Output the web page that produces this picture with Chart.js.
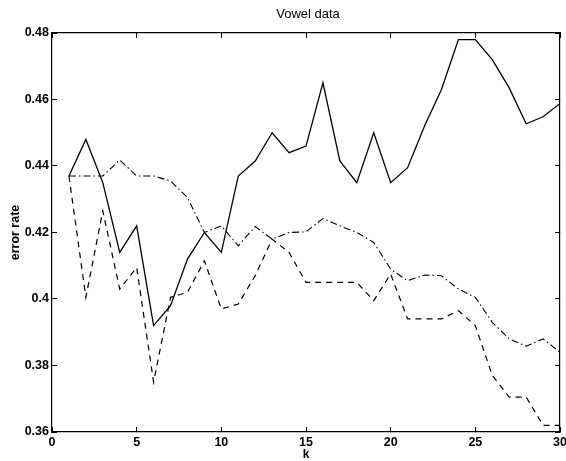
<!DOCTYPE html>
<html>
<head>
<meta charset="utf-8">
<script src="https://cdn.jsdelivr.net/npm/chart.js@4/dist/chart.umd.min.js"></script>
<style>
  html, body { margin: 0; padding: 0; background: #ffffff; }
  #wrap { width: 566px; height: 461px; }
</style>
</head>
<body>
<div id="wrap"><canvas id="c" width="566" height="461"></canvas></div>
<script>
const chartTitle = "Vowel data";
const xAxisTitle = "k";
const yAxisTitle = "error rate";

const kValues = [1,2,3,4,5,6,7,8,9,10,11,12,13,14,15,16,17,18,19,20,21,22,23,24,25,26,27,28,29,30];

const solidSeries = [0.437,0.448,0.435,0.414,0.422,0.392,0.398,0.412,0.420,0.414,
                     0.437,0.4415,0.450,0.444,0.446,0.465,0.4415,0.435,0.450,0.435,
                     0.4395,0.452,0.463,0.478,0.478,0.472,0.4635,0.4527,0.4548,0.4588];

const dashDotSeries = [0.437,0.437,0.437,0.4418,0.437,0.437,0.4355,0.4305,0.420,0.422,
                       0.416,0.4218,0.418,0.420,0.4202,0.4242,0.422,0.420,0.417,0.409,
                       0.4055,0.4072,0.407,0.403,0.4005,0.393,0.388,0.3858,0.388,0.384];

const dashedSeries = [0.437,0.4005,0.4265,0.403,0.4095,0.375,0.4005,0.402,0.4115,0.397,
                      0.3985,0.407,0.418,0.414,0.405,0.405,0.405,0.405,0.3995,0.4075,
                      0.394,0.394,0.394,0.3965,0.392,0.377,0.3705,0.3705,0.362,0.362];

const xTickValues = [0,5,10,15,20,25,30];
const xTickLabels = ["0","5","10","15","20","25","30"];
const yTickValues = [0.36,0.38,0.40,0.42,0.44,0.46,0.48];
const yTickLabels = ["0.36","0.38","0.4","0.42","0.44","0.46","0.48"];

function toPoints(vals) { return kValues.map((k, i) => ({ x: k, y: vals[i] })); }

const FONT = "'Liberation Sans', Arial, Helvetica, sans-serif";

const titlePlugin = {
  id: 'centeredTitle',
  afterDraw(chart) {
    const ctx = chart.ctx;
    const a = chart.chartArea;
    ctx.save();
    ctx.fillStyle = '#000';
    ctx.font = "13px " + FONT;
    ctx.textAlign = 'center';
    ctx.textBaseline = 'middle';
    ctx.fillText(chartTitle, (a.left + a.right) / 2 + 2, 14);
    ctx.restore();
  }
};

const gridInward = { display: true, drawOnChartArea: false, drawTicks: true, tickLength: -5, tickWidth: 1, tickColor: '#000' };
const frameBorder = { display: true, color: '#000', width: 1.2 };

new Chart(document.getElementById('c'), {
  type: 'line',
  data: {
    datasets: [
      { label: 'solid', data: toPoints(solidSeries), borderColor: '#000', borderWidth: 1.3, pointRadius: 0, fill: false },
      { label: 'dashdot', data: toPoints(dashDotSeries), borderColor: '#000', borderDash: [7, 3, 1.5, 3], borderWidth: 1.1, pointRadius: 0, fill: false },
      { label: 'dashed', data: toPoints(dashedSeries), borderColor: '#000', borderDash: [6, 5], borderWidth: 1.2, pointRadius: 0, fill: false }
    ]
  },
  options: {
    responsive: false,
    animation: false,
    layout: { padding: { top: 33, right: 6, bottom: 0, left: 0 } },
    plugins: { legend: { display: false }, tooltip: { enabled: false }, title: { display: false } },
    scales: {
      x: {
        type: 'linear', position: 'bottom', min: 0, max: 30,
        afterBuildTicks(scale) { scale.ticks = xTickValues.map(v => ({ value: v })); },
        afterFit(scale) { scale.height = 29; scale.paddingLeft = 0; scale.paddingRight = 0; },
        grid: gridInward,
        border: frameBorder,
        ticks: {
          color: '#000', padding: 8, maxRotation: 0, autoSkip: false,
          font: { family: FONT, size: 12.5, weight: 'bold' },
          callback(v) { const i = xTickValues.indexOf(v); return i >= 0 ? xTickLabels[i] : ''; }
        },
        title: { display: true, text: xAxisTitle, color: '#000', font: { family: FONT, size: 12, weight: 'bold', lineHeight: 1 }, padding: { top: 0, bottom: 0 } }
      },
      x2: {
        type: 'linear', position: 'top', min: 0, max: 30,
        afterBuildTicks(scale) { scale.ticks = xTickValues.map(v => ({ value: v })); },
        afterFit(scale) { scale.height = 0; scale.paddingLeft = 0; scale.paddingRight = 0; },
        grid: gridInward,
        border: frameBorder,
        ticks: { display: false }
      },
      y: {
        type: 'linear', position: 'left', min: 0.36, max: 0.48,
        afterBuildTicks(scale) { scale.ticks = yTickValues.map(v => ({ value: v })); },
        afterFit(scale) { scale.width = 52; scale.paddingTop = 0; scale.paddingBottom = 0; },
        grid: gridInward,
        border: frameBorder,
        ticks: {
          color: '#000', padding: 8, autoSkip: false,
          font: { family: FONT, size: 12.5, weight: 'bold' },
          callback(v) {
            const i = yTickValues.findIndex(t => Math.abs(t - v) < 1e-9);
            return i >= 0 ? yTickLabels[i] : '';
          }
        },
        title: { display: true, text: yAxisTitle, color: '#000', font: { family: FONT, size: 12.5, weight: 'bold', lineHeight: 1.2 }, padding: { top: 8, bottom: 0 } }
      },
      y2: {
        type: 'linear', position: 'right', min: 0.36, max: 0.48,
        afterBuildTicks(scale) { scale.ticks = yTickValues.map(v => ({ value: v })); },
        afterFit(scale) { scale.width = 0; scale.paddingTop = 0; scale.paddingBottom = 0; },
        grid: gridInward,
        border: frameBorder,
        ticks: { display: false }
      }
    }
  },
  plugins: [titlePlugin]
});
</script>
</body>
</html>
